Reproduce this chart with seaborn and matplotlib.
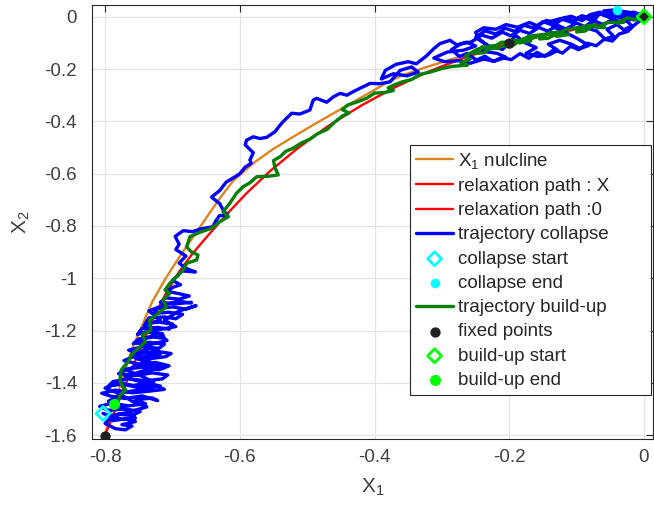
import numpy as np
import matplotlib
matplotlib.use("Agg")
import matplotlib.pyplot as plt
import seaborn as sns

# ---------------- data ----------------
nullcline_x = [-0.800, -0.790, -0.780, -0.770, -0.760, -0.745, -0.730, -0.710, -0.690, -0.670,
               -0.650, -0.630, -0.610, -0.580, -0.550, -0.520, -0.490, -0.460, -0.420, -0.380,
               -0.360, -0.320, -0.280, -0.240, -0.200, -0.150, -0.100, -0.050, 0.000]
nullcline_y = [-1.600, -1.500, -1.430, -1.350, -1.270, -1.180, -1.090, -1.000, -0.920, -0.845,
               -0.770, -0.695, -0.628, -0.560, -0.505, -0.458, -0.412, -0.368, -0.309, -0.250,
               -0.225, -0.190, -0.158, -0.128, -0.100, -0.072, -0.047, -0.023, 0.000]

relaxX_x = [-0.200, -0.230, -0.270, -0.320, -0.370, -0.420, -0.470, -0.515, -0.555, -0.590,
            -0.620, -0.645, -0.670, -0.690, -0.710, -0.730, -0.745, -0.760, -0.775, -0.790, -0.800]
relaxX_y = [-0.100, -0.125, -0.160, -0.210, -0.270, -0.340, -0.420, -0.505, -0.590, -0.675,
            -0.757, -0.830, -0.905, -0.975, -1.060, -1.160, -1.255, -1.345, -1.440, -1.535, -1.600]

relax0_x = [-0.200, -0.150, -0.100, -0.050, 0.000]
relax0_y = [-0.100, -0.072, -0.047, -0.022, 0.000]

collapse_xy = [
    # bottom-left cluster, first climb
    (-0.803, -1.517), (-0.790, -1.530), (-0.800, -1.555), (-0.785, -1.575), (-0.770, -1.580),
    (-0.760, -1.565), (-0.775, -1.560), (-0.755, -1.548), (-0.770, -1.538), (-0.790, -1.545),
    (-0.780, -1.520), (-0.760, -1.525), (-0.748, -1.510), (-0.770, -1.500), (-0.795, -1.505),
    (-0.808, -1.490), (-0.790, -1.478), (-0.765, -1.488), (-0.740, -1.480), (-0.755, -1.465),
    (-0.730, -1.458), (-0.722, -1.468), (-0.745, -1.450), (-0.770, -1.460), (-0.790, -1.452),
    (-0.805, -1.440), (-0.785, -1.428), (-0.760, -1.438), (-0.735, -1.432), (-0.712, -1.425),
    (-0.725, -1.410), (-0.750, -1.418), (-0.775, -1.405), (-0.795, -1.412), (-0.788, -1.395),
    (-0.765, -1.385), (-0.740, -1.392), (-0.715, -1.385), (-0.707, -1.370), (-0.730, -1.362),
    (-0.755, -1.372), (-0.780, -1.365), (-0.770, -1.348), (-0.745, -1.340), (-0.720, -1.350),
    (-0.705, -1.335), (-0.725, -1.322), (-0.750, -1.328), (-0.772, -1.315), (-0.758, -1.300),
    (-0.735, -1.308), (-0.710, -1.300), (-0.702, -1.288), (-0.722, -1.280), (-0.748, -1.288),
    (-0.765, -1.275), (-0.745, -1.262), (-0.720, -1.268), (-0.712, -1.252), (-0.735, -1.245),
    (-0.758, -1.250), (-0.750, -1.232), (-0.728, -1.225), (-0.712, -1.230), (-0.715, -1.212),
    (-0.740, -1.205), (-0.752, -1.215), (-0.745, -1.192), (-0.722, -1.188), (-0.705, -1.195),
    (-0.700, -1.175), (-0.720, -1.168), (-0.740, -1.172), (-0.735, -1.152), (-0.712, -1.148),
    (-0.695, -1.155), (-0.685, -1.138), (-0.705, -1.130), (-0.728, -1.135), (-0.722, -1.115),
    (-0.700, -1.110), (-0.680, -1.118), (-0.665, -1.105),
    # falls back down
    (-0.690, -1.125), (-0.712, -1.160), (-0.695, -1.185), (-0.728, -1.200), (-0.708, -1.238),
    (-0.740, -1.258), (-0.718, -1.290), (-0.755, -1.305), (-0.730, -1.330), (-0.712, -1.342),
    (-0.745, -1.355), (-0.770, -1.378), (-0.740, -1.402), (-0.718, -1.412), (-0.752, -1.428),
    (-0.780, -1.440), (-0.760, -1.470), (-0.738, -1.492), (-0.770, -1.515), (-0.790, -1.525),
    (-0.775, -1.540), (-0.755, -1.535),
    # climbs again
    (-0.765, -1.505), (-0.795, -1.470), (-0.775, -1.445), (-0.800, -1.420), (-0.780, -1.400),
    (-0.758, -1.410), (-0.728, -1.398), (-0.745, -1.375), (-0.768, -1.352), (-0.752, -1.332),
    (-0.725, -1.340), (-0.738, -1.310), (-0.760, -1.290), (-0.735, -1.270), (-0.752, -1.240),
    (-0.725, -1.215), (-0.742, -1.180), (-0.718, -1.160), (-0.735, -1.125), (-0.710, -1.100),
    (-0.690, -1.088), (-0.672, -1.095),
    (-0.672, -1.092), (-0.695, -1.098), (-0.718, -1.092), (-0.710, -1.075), (-0.690, -1.080),
    (-0.675, -1.068), (-0.692, -1.058), (-0.708, -1.050), (-0.700, -1.035), (-0.688, -1.025),
    (-0.700, -1.008), (-0.692, -0.990), (-0.686, -0.972), (-0.666, -0.976), (-0.680, -0.962),
    (-0.690, -0.942), (-0.680, -0.915), (-0.695, -0.890), (-0.690, -0.870), (-0.696, -0.840),
    (-0.684, -0.818), (-0.670, -0.822), (-0.659, -0.812), (-0.640, -0.803), (-0.636, -0.782),
    (-0.630, -0.760), (-0.618, -0.760), (-0.625, -0.738), (-0.630, -0.714), (-0.642, -0.690),
    (-0.630, -0.665), (-0.620, -0.632), (-0.607, -0.612), (-0.600, -0.600), (-0.592, -0.575),
    (-0.583, -0.560), (-0.585, -0.548), (-0.580, -0.520), (-0.592, -0.490), (-0.590, -0.472),
    (-0.580, -0.459), (-0.570, -0.466), (-0.560, -0.461), (-0.548, -0.440), (-0.540, -0.414),
    (-0.536, -0.402), (-0.523, -0.369), (-0.511, -0.372), (-0.496, -0.357), (-0.491, -0.319),
    (-0.486, -0.312), (-0.471, -0.327), (-0.461, -0.306), (-0.451, -0.293), (-0.441, -0.300),
    (-0.432, -0.287), (-0.422, -0.274), (-0.412, -0.262), (-0.407, -0.255), (-0.392, -0.256),
    # top-right cluster
    (-0.377, -0.249), (-0.362, -0.205), (-0.345, -0.192), (-0.335, -0.212), (-0.352, -0.226),
    (-0.372, -0.218), (-0.390, -0.238), (-0.384, -0.205), (-0.368, -0.182), (-0.350, -0.172),
    (-0.338, -0.180), (-0.323, -0.150), (-0.312, -0.122), (-0.303, -0.103), (-0.288, -0.090),
    (-0.278, -0.108), (-0.263, -0.097), (-0.250, -0.112), (-0.268, -0.128), (-0.292, -0.135),
    (-0.312, -0.158), (-0.296, -0.172), (-0.275, -0.168), (-0.258, -0.178), (-0.238, -0.162),
    (-0.222, -0.170), (-0.205, -0.155), (-0.218, -0.140), (-0.240, -0.132), (-0.232, -0.110),
    (-0.245, -0.085), (-0.250, -0.060), (-0.238, -0.042), (-0.220, -0.048), (-0.205, -0.030),
    (-0.188, -0.040), (-0.170, -0.022), (-0.158, -0.035), (-0.145, -0.014), (-0.130, -0.024),
    (-0.118, -0.004), (-0.104, -0.016), (-0.092, 0.004), (-0.080, -0.006), (-0.066, 0.013),
    (-0.054, 0.004), (-0.042, 0.019), (-0.028, 0.010), (-0.016, 0.018), (-0.006, 0.008),
    (-0.020, -0.010), (-0.033, -0.022), (-0.046, -0.008), (-0.060, -0.030), (-0.074, -0.016),
    (-0.088, -0.038), (-0.100, -0.024), (-0.116, -0.047), (-0.128, -0.033), (-0.143, -0.055),
    (-0.156, -0.041), (-0.170, -0.064), (-0.184, -0.052), (-0.198, -0.073), (-0.210, -0.059),
    (-0.226, -0.082), (-0.241, -0.070), (-0.256, -0.096), (-0.272, -0.104), (-0.286, -0.126),
    (-0.274, -0.152), (-0.262, -0.140), (-0.249, -0.166), (-0.236, -0.151), (-0.224, -0.171),
    (-0.211, -0.156), (-0.197, -0.164), (-0.184, -0.141), (-0.171, -0.159), (-0.159, -0.136),
    (-0.147, -0.152), (-0.134, -0.126), (-0.121, -0.139), (-0.109, -0.113), (-0.097, -0.126),
    (-0.084, -0.101), (-0.071, -0.111), (-0.059, -0.086), (-0.047, -0.093), (-0.037, -0.066),
    (-0.024, -0.056), (-0.014, -0.031), (-0.004, -0.012),
    (-0.012, 0.005), (-0.025, 0.001), (-0.038, 0.016), (-0.052, -0.002), (-0.065, 0.011),
    (-0.080, -0.012), (-0.094, 0.001), (-0.108, -0.021), (-0.122, -0.009), (-0.136, -0.031),
    (-0.150, -0.019), (-0.164, -0.043), (-0.178, -0.033), (-0.192, -0.056), (-0.206, -0.044),
    (-0.220, -0.066), (-0.236, -0.054), (-0.250, -0.079),
    (-0.232, -0.110), (-0.210, -0.125), (-0.190, -0.072), (-0.178, -0.098), (-0.160, -0.118),
    (-0.175, -0.140), (-0.158, -0.152), (-0.140, -0.145), (-0.128, -0.128), (-0.142, -0.105),
    (-0.125, -0.090), (-0.108, -0.105), (-0.095, -0.122), (-0.082, -0.110), (-0.098, -0.085),
    (-0.115, -0.062), (-0.130, -0.045), (-0.142, -0.020), (-0.125, -0.008), (-0.108, 0.002),
    (-0.092, -0.015), (-0.080, 0.008), (-0.065, 0.018), (-0.072, -0.008), (-0.088, -0.040),
    (-0.070, -0.055), (-0.058, -0.085), (-0.045, -0.075), (-0.055, -0.048), (-0.040, -0.030),
    (-0.030, -0.050), (-0.018, -0.035), (-0.028, -0.010), (-0.045, 0.005), (-0.060, 0.022),
    (-0.045, 0.026), (-0.025, 0.018), (-0.010, 0.012), (-0.002, 0.004), (-0.015, -0.012),
    (-0.035, -0.002), (-0.050, 0.012), (-0.040, 0.024),
]

buildup_xy = [
    (0.000, 0.000), (-0.012, -0.012), (-0.025, -0.004), (-0.040, -0.025), (-0.030, -0.020),
    (-0.055, -0.022), (-0.070, -0.042), (-0.058, -0.040), (-0.085, -0.035), (-0.100, -0.058),
    (-0.088, -0.055), (-0.072, -0.030), (-0.095, -0.040), (-0.118, -0.050), (-0.130, -0.075),
    (-0.112, -0.068), (-0.140, -0.060), (-0.155, -0.085), (-0.142, -0.082), (-0.125, -0.058),
    (-0.150, -0.068), (-0.172, -0.075), (-0.185, -0.100), (-0.168, -0.092), (-0.195, -0.090),
    (-0.210, -0.112), (-0.198, -0.115), (-0.180, -0.085), (-0.160, -0.078), (-0.185, -0.092),
    (-0.212, -0.098), (-0.228, -0.122), (-0.215, -0.120), (-0.240, -0.115), (-0.252, -0.140),
    (-0.238, -0.138), (-0.222, -0.110), (-0.248, -0.125), (-0.265, -0.150), (-0.258, -0.162),
    (-0.272, -0.175), (-0.262, -0.185), (-0.285, -0.190), (-0.300, -0.198), (-0.318, -0.212),
    (-0.332, -0.220), (-0.345, -0.240), (-0.360, -0.250), (-0.372, -0.262), (-0.380, -0.272),
    (-0.372, -0.282), (-0.385, -0.290), (-0.400, -0.292), (-0.412, -0.312), (-0.425, -0.325),
    (-0.440, -0.338), (-0.448, -0.355), (-0.438, -0.368), (-0.448, -0.380), (-0.460, -0.405),
    (-0.470, -0.430), (-0.485, -0.448), (-0.496, -0.468), (-0.510, -0.485), (-0.521, -0.503),
    (-0.532, -0.515), (-0.540, -0.535), (-0.550, -0.550), (-0.548, -0.575), (-0.543, -0.605),
    (-0.558, -0.610), (-0.575, -0.612), (-0.585, -0.635), (-0.595, -0.650), (-0.605, -0.675),
    (-0.615, -0.714), (-0.625, -0.746), (-0.617, -0.765), (-0.630, -0.784), (-0.642, -0.809),
    (-0.660, -0.825), (-0.674, -0.841), (-0.679, -0.880), (-0.672, -0.899), (-0.662, -0.911),
    (-0.664, -0.930), (-0.679, -0.943), (-0.684, -0.969), (-0.694, -0.994), (-0.704, -1.020),
    (-0.711, -1.045), (-0.704, -1.058), (-0.714, -1.083), (-0.709, -1.109), (-0.721, -1.134),
    (-0.734, -1.160), (-0.732, -1.198), (-0.745, -1.217), (-0.740, -1.243), (-0.751, -1.268),
    (-0.761, -1.294), (-0.766, -1.319), (-0.776, -1.351), (-0.778, -1.389), (-0.774, -1.415),
    (-0.769, -1.427), (-0.778, -1.447), (-0.780, -1.466), (-0.787, -1.482),
]

collapse_start = (-0.803, -1.517)
collapse_end = (-0.040, 0.024)
fixed_x = [-0.800, -0.200, 0.000]
fixed_y = [-1.603, -0.099, 0.000]
buildup_start = (0.000, 0.000)
buildup_end = (-0.787, -1.482)

xticks = [-0.8, -0.6, -0.4, -0.2, 0]
xtick_labels = ["-0.8", "-0.6", "-0.4", "-0.2", "0"]
yticks = [0, -0.2, -0.4, -0.6, -0.8, -1, -1.2, -1.4, -1.6]
ytick_labels = ["0", "-0.2", "-0.4", "-0.6", "-0.8", "-1", "-1.2", "-1.4", "-1.6"]

# ---------------- style ----------------
sns.set_style("white")
plt.rcParams["font.family"] = ["Liberation Sans", "DejaVu Sans"]
plt.rcParams["mathtext.default"] = "regular"
TXT = "#262626"

fig = plt.figure(figsize=(6.54, 5.07), dpi=100)
ax = fig.add_axes([0.1411, 0.1335, 0.8574, 0.8572])

cx, cy = np.array(collapse_xy).T
bx, by = np.array(buildup_xy).T

sns.lineplot(x=nullcline_x, y=nullcline_y, sort=False, estimator=None, color="#DB8420",
             lw=1.7, label="X$_1$ nulcline", ax=ax)
sns.lineplot(x=relaxX_x, y=relaxX_y, sort=False, estimator=None, color="#FF0000",
             lw=1.7, label="relaxation path : X", ax=ax)
sns.lineplot(x=relax0_x, y=relax0_y, sort=False, estimator=None, color="#FF0000",
             lw=1.7, label="relaxation path :0", ax=ax)
sns.lineplot(x=cx, y=cy, sort=False, estimator=None, color="#0000FF",
             lw=2.4, label="trajectory collapse", ax=ax)
sns.scatterplot(x=[collapse_start[0]], y=[collapse_start[1]], marker="D", s=50,
                color="#00FFFF", linewidth=2, label="collapse start", ax=ax, zorder=5)
coll_cs = ax.collections[-1]
coll_cs.set_facecolor("none")
coll_cs.set_edgecolor("#00FFFF")
sns.scatterplot(x=[collapse_end[0]], y=[collapse_end[1]], marker="o", s=48,
                color="#00FFFF", linewidth=0, label="collapse end", ax=ax, zorder=5)
sns.lineplot(x=bx, y=by, sort=False, estimator=None, color="#007F00",
             lw=2.4, label="trajectory build-up", ax=ax)
sns.scatterplot(x=fixed_x, y=fixed_y, marker="o", s=55, color="#202020", linewidth=0,
                label="fixed points", ax=ax, zorder=6)
sns.scatterplot(x=[buildup_start[0]], y=[buildup_start[1]], marker="D", s=50,
                color="#00FF00", linewidth=2, label="build-up start", ax=ax, zorder=7)
coll_bs = ax.collections[-1]
coll_bs.set_facecolor("none")
coll_bs.set_edgecolor("#00FF00")
sns.scatterplot(x=[buildup_end[0]], y=[buildup_end[1]], marker="o", s=64,
                color="#00FF00", linewidth=0, label="build-up end", ax=ax, zorder=7)

ax.set_xlim(-0.819, 0.0134)
ax.set_ylim(-1.616, 0.046)
ax.set_xticks(xticks)
ax.set_xticklabels(xtick_labels)
ax.set_yticks(yticks)
ax.set_yticklabels(ytick_labels)
ax.grid(True, color="#E3E3E3", lw=0.9)
ax.set_axisbelow(True)
for sp in ax.spines.values():
    sp.set_visible(True)
    sp.set_color(TXT)
    sp.set_linewidth(0.8)
ax.tick_params(direction="in", length=5, width=0.8, top=True, right=True,
               labelsize=13.5, colors=TXT, labelcolor="#404040")
ax.tick_params(axis="x", pad=7)
ax.tick_params(axis="y", pad=11)
ax.set_xlabel("X$_1$", fontsize=15, color="#404040", labelpad=8)
ax.set_ylabel("X$_2$", fontsize=15, color="#404040", labelpad=9)

leg = ax.legend(loc="upper left", bbox_to_anchor=(0.567, 0.104, 0.429, 0.573),
                mode="expand", borderaxespad=0, fontsize=13.5, frameon=True,
                fancybox=False, framealpha=1, edgecolor=TXT, labelspacing=0.38,
                handlelength=2.0, handletextpad=0.25, borderpad=0.3)
leg.get_frame().set_linewidth(0.8)
for t in leg.get_texts():
    t.set_color("#262626")

fig.savefig("out.png", dpi=100)
